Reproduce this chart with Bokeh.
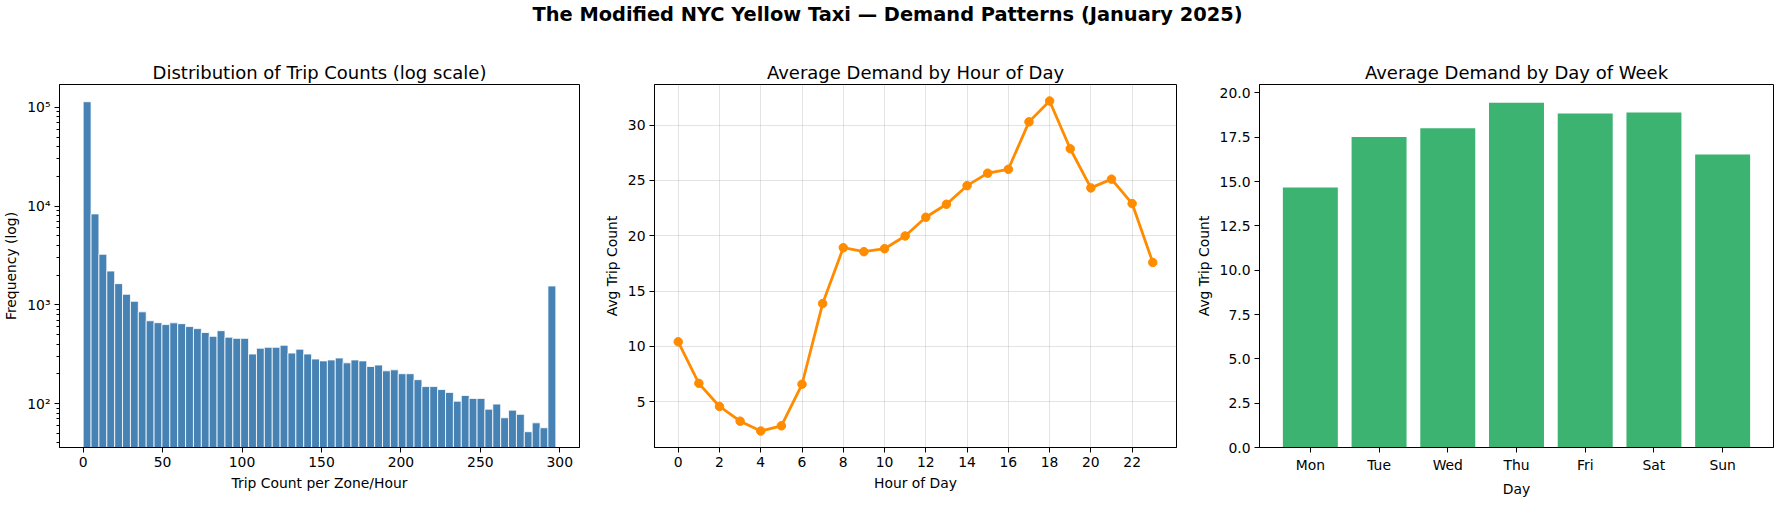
import numpy as np
from bokeh.plotting import figure
from bokeh.models import (Range1d, FactorRange, SingleIntervalTicker, FixedTicker,
                          PrintfTickFormatter)
from bokeh.layouts import column, row
from bokeh.embed import file_html
from bokeh.resources import INLINE

# ---------------- data ----------------
suptitle = "The Modified NYC Yellow Taxi \u2014 Demand Patterns (January 2025)"

hist_counts = [113800, 8330, 3250, 2200, 1640, 1280, 1087, 850, 690, 660,
               632, 658, 645, 603, 575, 525, 480, 548, 471, 458,
               458, 318, 364, 372, 372, 390, 325, 356, 318, 283,
               271, 277, 290, 259, 277, 271, 238, 246, 215, 220,
               201, 201, 175, 149, 149, 139, 130, 106, 121, 113,
               113, 88, 99, 72, 86, 78, 52, 64, 57, 1553]
hist_lo = 0.0
hist_hi = 297.5
hist_xticks = [0, 50, 100, 150, 200, 250, 300]
log_ticks = [100, 1000, 10000, 100000]
log_tick_labels = ["10\u00b2", "10\u00b3", "10\u2074", "10\u2075"]

hours = list(range(24))
hour_avg = [10.41, 6.65, 4.56, 3.23, 2.34, 2.81, 6.57, 13.87, 18.92, 18.56,
            18.83, 19.98, 21.67, 22.85, 24.53, 25.66, 26.01, 30.30, 32.19, 27.87,
            24.33, 25.12, 22.91, 17.59]
hour_ticks = list(range(0, 24, 2))

days = ["Mon", "Tue", "Wed", "Thu", "Fri", "Sat", "Sun"]
day_avg = [14.66, 17.51, 18.01, 19.45, 18.84, 18.90, 16.52]

# ---------------- styling helpers ----------------
FONT = "DejaVu Sans"
TICK_PX = "13.9px"


def style(p, title):
    p.title.text = title
    p.title.align = "center"
    p.title.text_font = FONT
    p.title.text_font_size = "18px"
    p.title.text_font_style = "normal"
    p.title.text_color = "black"
    p.title.standoff = 4
    p.outline_line_color = "black"
    p.outline_line_width = 1
    p.background_fill_color = "white"
    p.border_fill_color = "white"
    for ax in (p.xaxis[0], p.yaxis[0]):
        ax.axis_line_color = "black"
        ax.axis_line_width = 1
        ax.major_tick_line_color = "black"
        ax.major_tick_line_width = 1
        ax.major_tick_out = 5
        ax.major_tick_in = 0
        ax.minor_tick_line_color = None
        ax.major_label_text_font = FONT
        ax.major_label_text_font_size = TICK_PX
        ax.major_label_text_color = "black"
        ax.major_label_standoff = 4
        ax.axis_label_text_font = FONT
        ax.axis_label_text_font_size = TICK_PX
        ax.axis_label_text_font_style = "normal"
        ax.axis_label_text_color = "black"
        ax.axis_label_standoff = 5


H = 454
common = dict(height=H, toolbar_location=None, output_backend="svg",
              min_border_top=39, min_border_bottom=45)

# ---------------- header (suptitle) ----------------
head = figure(width=1774, height=45, toolbar_location=None, output_backend="svg",
              min_border=0, x_range=Range1d(0, 1), y_range=Range1d(0, 1))
head.title.text = suptitle
head.title.align = "center"
head.title.text_font = FONT
head.title.text_font_size = "19.4px"
head.title.text_font_style = "bold"
head.title.text_color = "black"
head.title.standoff = 0
head.title.offset = 0
head.axis.visible = False
head.grid.visible = False
head.outline_line_color = None

# ---------------- histogram ----------------
edges = np.linspace(hist_lo, hist_hi, len(hist_counts) + 1)
p1 = figure(width=592, min_border_left=58, min_border_right=13,
            x_range=Range1d(-14.9, 312.4), y_range=Range1d(36, 170000),
            y_axis_type="log", **common)
p1.quad(left=edges[:-1], right=edges[1:], bottom=1, top=hist_counts,
        fill_color="#4682B4", line_color="white", line_width=0.8)
style(p1, "Distribution of Trip Counts (log scale)")
p1.grid.visible = False
p1.xaxis.ticker = FixedTicker(ticks=hist_xticks)
minor = [k * 10 ** e for e in range(1, 6) for k in range(2, 10)]
p1.yaxis.ticker = FixedTicker(ticks=log_ticks, minor_ticks=minor)
p1.yaxis.major_label_overrides = {t: l for t, l in zip(log_ticks, log_tick_labels)}
p1.yaxis.minor_tick_line_color = "black"
p1.yaxis.minor_tick_out = 3
p1.yaxis.minor_tick_in = 0
p1.xaxis.axis_label = "Trip Count per Zone/Hour"
p1.yaxis.axis_label = "Frequency (log)"

# ---------------- hourly line ----------------
p2 = figure(width=600, min_border_left=62, min_border_right=16,
            x_range=Range1d(-1.15, 24.15), y_range=Range1d(0.85, 33.68), **common)
style(p2, "Average Demand by Hour of Day")
p2.xaxis.ticker = FixedTicker(ticks=hour_ticks)
p2.yaxis.ticker = SingleIntervalTicker(interval=5, num_minor_ticks=0)
p2.grid.grid_line_color = "#b0b0b0"
p2.grid.grid_line_alpha = 0.45
p2.grid.grid_line_width = 0.8
p2.line(hours, hour_avg, line_color="#FF8C00", line_width=2.8)
p2.scatter(hours, hour_avg, size=8.5, fill_color="#FF8C00", line_color="#FF8C00")
p2.xaxis.axis_label = "Hour of Day"
p2.yaxis.axis_label = "Avg Trip Count"

# ---------------- day-of-week bars ----------------
p3 = figure(width=582, min_border_left=60, min_border_right=1,
            x_range=FactorRange(factors=days, range_padding=0.24,
                                range_padding_units="absolute"),
            y_range=Range1d(0, 20.475), **common)
style(p3, "Average Demand by Day of Week")
p3.grid.visible = False
p3.vbar(x=days, top=day_avg, width=0.8, fill_color="#3CB371", line_color=None)
p3.yaxis.ticker = SingleIntervalTicker(interval=2.5, num_minor_ticks=0)
p3.yaxis.formatter = PrintfTickFormatter(format="%.1f")
p3.xaxis.axis_label = "Day"
p3.yaxis.axis_label = "Avg Trip Count"

layout = column(head, row(p1, p2, p3, spacing=0), spacing=0)
open("out.html", "w").write(file_html(layout, INLINE))
